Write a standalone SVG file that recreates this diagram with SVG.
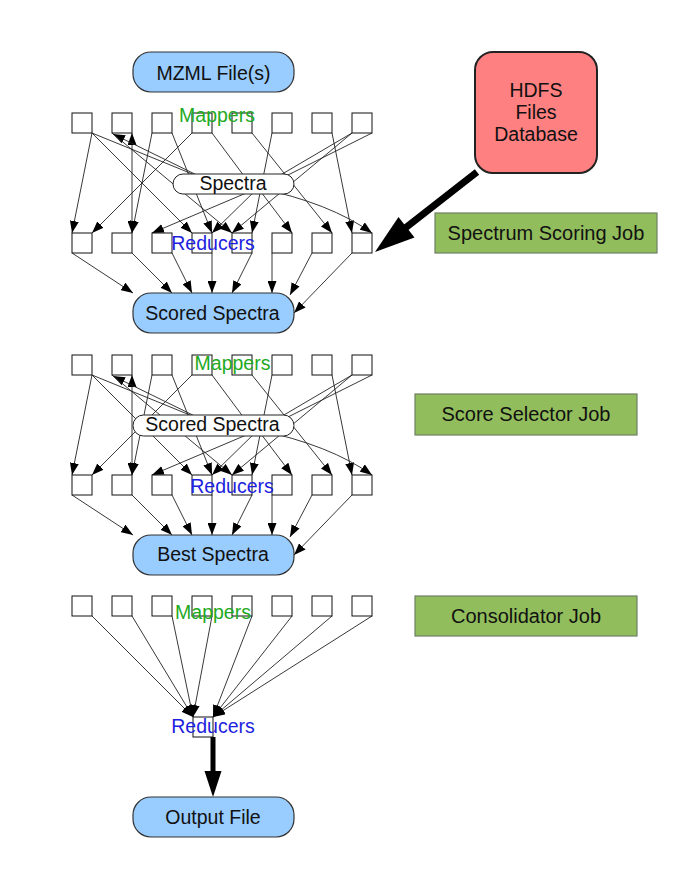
<svg xmlns="http://www.w3.org/2000/svg" width="685" height="886" viewBox="0 0 685 886">
<style>
text{font-family:"Liberation Sans",Arial,sans-serif;font-size:19.5px;fill:#111;text-anchor:middle}
.box{fill:#fff;stroke:#111;stroke-width:1}
.node{fill:#99CCFF;stroke:#333;stroke-width:1.2}
.pill{fill:#fff;stroke:#222;stroke-width:1}
.job{fill:#92BD5C;stroke:#6f7f64;stroke-width:1.2}
.a,.n,.b{stroke:#222;stroke-width:0.9;fill:none}
.a{marker-end:url(#ah)}
.b{marker-end:url(#ah);marker-start:url(#ah)}
.map{fill:#1FAA1F}
.red{fill:#1E1EE0}
.jt{font-size:20px}
</style>
<defs>
<marker id="ah" viewBox="0 0 12 9" refX="12" refY="4.5" markerWidth="12" markerHeight="9" markerUnits="userSpaceOnUse" orient="auto-start-reverse">
<path d="M0,0 L12,4.5 L0,9 z" fill="#000"/>
</marker>
</defs>
<rect width="685" height="886" fill="#fff"/>

<g id="connectors">
<g id="conn-row1">
<line x1="92" y1="133" x2="72" y2="233" class="a"/>
<line x1="92" y1="133" x2="207" y2="180" class="n"/>
<line x1="92" y1="133" x2="192" y2="233" class="a"/>
<line x1="132" y1="133" x2="132" y2="233" class="b"/>
<line x1="207" y1="180" x2="113" y2="134" class="a"/>
<line x1="112" y1="133" x2="232" y2="233" class="a"/>
<line x1="152" y1="133" x2="132" y2="233" class="a"/>
<line x1="172" y1="133" x2="212" y2="233" class="a"/>
<line x1="192" y1="133" x2="92" y2="233" class="a"/>
<line x1="212" y1="133" x2="247" y2="180" class="n"/>
<line x1="252" y1="133" x2="332" y2="233" class="a"/>
<line x1="272" y1="133" x2="252" y2="233" class="a"/>
<line x1="352" y1="133" x2="272" y2="180" class="n"/>
<line x1="372" y1="133" x2="278" y2="180" class="n"/>
<line x1="332" y1="133" x2="352" y2="233" class="a"/>
<line x1="352" y1="133" x2="232" y2="233" class="a"/>
<line x1="258" y1="188" x2="152" y2="233" class="a"/>
<line x1="258" y1="188" x2="212" y2="233" class="a"/>
<line x1="258" y1="188" x2="292" y2="233" class="a"/>
<path d="M258,188 Q330,203 372,233" class="a"/>
<line x1="72" y1="253" x2="133" y2="293" class="a"/>
<line x1="132" y1="253" x2="172" y2="293" class="a"/>
<line x1="172" y1="253" x2="192" y2="293" class="a"/>
<line x1="212" y1="253" x2="212" y2="293" class="a"/>
<line x1="252" y1="253" x2="232" y2="293" class="a"/>
<line x1="272" y1="253" x2="272" y2="293" class="a"/>
<line x1="312" y1="253" x2="290" y2="295" class="a"/>
<line x1="352" y1="253" x2="294" y2="313" class="a"/>
</g>
<g id="conn-row2" transform="translate(0,242)">
<line x1="92" y1="133" x2="72" y2="233" class="a"/>
<line x1="92" y1="133" x2="207" y2="180" class="n"/>
<line x1="92" y1="133" x2="192" y2="233" class="a"/>
<line x1="132" y1="133" x2="132" y2="233" class="b"/>
<line x1="207" y1="180" x2="113" y2="134" class="a"/>
<line x1="112" y1="133" x2="232" y2="233" class="a"/>
<line x1="152" y1="133" x2="132" y2="233" class="a"/>
<line x1="172" y1="133" x2="212" y2="233" class="a"/>
<line x1="192" y1="133" x2="92" y2="233" class="a"/>
<line x1="212" y1="133" x2="247" y2="180" class="n"/>
<line x1="252" y1="133" x2="332" y2="233" class="a"/>
<line x1="272" y1="133" x2="252" y2="233" class="a"/>
<line x1="352" y1="133" x2="272" y2="180" class="n"/>
<line x1="372" y1="133" x2="278" y2="180" class="n"/>
<line x1="332" y1="133" x2="352" y2="233" class="a"/>
<line x1="352" y1="133" x2="232" y2="233" class="a"/>
<line x1="258" y1="188" x2="152" y2="233" class="a"/>
<line x1="258" y1="188" x2="212" y2="233" class="a"/>
<line x1="258" y1="188" x2="292" y2="233" class="a"/>
<path d="M258,188 Q330,203 372,233" class="a"/>
<line x1="72" y1="253" x2="133" y2="293" class="a"/>
<line x1="132" y1="253" x2="172" y2="293" class="a"/>
<line x1="172" y1="253" x2="192" y2="293" class="a"/>
<line x1="212" y1="253" x2="212" y2="293" class="a"/>
<line x1="252" y1="253" x2="232" y2="293" class="a"/>
<line x1="272" y1="253" x2="272" y2="293" class="a"/>
<line x1="312" y1="253" x2="290" y2="295" class="a"/>
<line x1="352" y1="253" x2="294" y2="313" class="a"/>
</g>
<g id="conn-row3">
<line x1="92" y1="616" x2="193" y2="717" class="a"/>
<line x1="132" y1="616" x2="193" y2="717" class="a"/>
<line x1="172" y1="616" x2="193" y2="717" class="a"/>
<line x1="212" y1="616" x2="193" y2="717" class="a"/>
<line x1="252" y1="616" x2="213" y2="717" class="a"/>
<line x1="292" y1="616" x2="213" y2="717" class="a"/>
<line x1="332" y1="616" x2="213" y2="717" class="a"/>
<line x1="372" y1="616" x2="213" y2="717" class="a"/>
</g>
<g id="thick-arrows">
<line x1="477" y1="172" x2="404" y2="229" stroke="#000" stroke-width="7"/>
<polygon points="375,252 414.5,237.5 398.5,217" fill="#000"/>
<line x1="213" y1="737" x2="213" y2="773" stroke="#000" stroke-width="5"/>
<polygon points="204.5,771 221.5,771 213,797" fill="#000"/>
</g>
</g>

<g id="mzml"><rect class="node" x="133" y="52" width="161" height="40" rx="18"/><text x="213.5" y="80">MZML File(s)</text></g>

<g id="mappers1">
<rect class="box" x="72" y="113" width="20" height="20"/><rect class="box" x="112" y="113" width="20" height="20"/><rect class="box" x="152" y="113" width="20" height="20"/><rect class="box" x="192" y="113" width="20" height="20"/><rect class="box" x="232" y="113" width="20" height="20"/><rect class="box" x="272" y="113" width="20" height="20"/><rect class="box" x="312" y="113" width="20" height="20"/><rect class="box" x="352" y="113" width="20" height="20"/>
<text class="map" x="217" y="122">Mappers</text>
</g>
<g id="spectra"><rect class="pill" x="173" y="174" width="121" height="20" rx="10"/><text x="233" y="189.5">Spectra</text></g>
<g id="reducers1">
<rect class="box" x="72" y="233" width="20" height="20"/><rect class="box" x="112" y="233" width="20" height="20"/><rect class="box" x="152" y="233" width="20" height="20"/><rect class="box" x="192" y="233" width="20" height="20"/><rect class="box" x="232" y="233" width="20" height="20"/><rect class="box" x="272" y="233" width="20" height="20"/><rect class="box" x="312" y="233" width="20" height="20"/><rect class="box" x="352" y="233" width="20" height="20"/>
<text class="red" x="213" y="249.5">Reducers</text>
</g>
<g id="scored-spectra"><rect class="node" x="133" y="293" width="161" height="40" rx="18"/><text x="212.5" y="319.5">Scored Spectra</text></g>

<g id="mappers2">
<rect class="box" x="72" y="355" width="20" height="20"/><rect class="box" x="112" y="355" width="20" height="20"/><rect class="box" x="152" y="355" width="20" height="20"/><rect class="box" x="192" y="355" width="20" height="20"/><rect class="box" x="232" y="355" width="20" height="20"/><rect class="box" x="272" y="355" width="20" height="20"/><rect class="box" x="312" y="355" width="20" height="20"/><rect class="box" x="352" y="355" width="20" height="20"/>
<text class="map" x="232.5" y="369.5">Mappers</text>
</g>
<g id="scored-spectra-pill"><rect class="pill" x="133" y="415" width="161" height="21" rx="10.5"/><text x="212.5" y="431">Scored Spectra</text></g>
<g id="reducers2">
<rect class="box" x="72" y="475" width="20" height="20"/><rect class="box" x="112" y="475" width="20" height="20"/><rect class="box" x="152" y="475" width="20" height="20"/><rect class="box" x="192" y="475" width="20" height="20"/><rect class="box" x="232" y="475" width="20" height="20"/><rect class="box" x="272" y="475" width="20" height="20"/><rect class="box" x="312" y="475" width="20" height="20"/><rect class="box" x="352" y="475" width="20" height="20"/>
<text class="red" x="232" y="493">Reducers</text>
</g>
<g id="best-spectra"><rect class="node" x="133" y="535" width="161" height="40" rx="18"/><text x="213" y="561">Best Spectra</text></g>

<g id="mappers3">
<rect class="box" x="72" y="596" width="20" height="20"/><rect class="box" x="112" y="596" width="20" height="20"/><rect class="box" x="152" y="596" width="20" height="20"/><rect class="box" x="192" y="596" width="20" height="20"/><rect class="box" x="232" y="596" width="20" height="20"/><rect class="box" x="272" y="596" width="20" height="20"/><rect class="box" x="312" y="596" width="20" height="20"/><rect class="box" x="352" y="596" width="20" height="20"/>
<text class="map" x="213" y="618.5">Mappers</text>
</g>
<g id="reducer3"><rect class="box" x="193" y="717" width="20" height="20"/><text class="red" x="213" y="733">Reducers</text></g>
<g id="output-file"><rect class="node" x="133" y="797" width="161" height="40" rx="18"/><text x="213" y="823.5">Output File</text></g>

<g id="hdfs"><rect x="475" y="52" width="122" height="121" rx="18" fill="#FF8080" stroke="#222" stroke-width="2"/>
<text x="536" y="97">HDFS</text><text x="536" y="119">Files</text><text x="536" y="141">Database</text></g>

<g id="job-scoring"><rect class="job" x="435" y="213" width="222" height="40"/><text class="jt" x="546" y="240">Spectrum Scoring Job</text></g>
<g id="job-selector"><rect class="job" x="415" y="394" width="222" height="41"/><text class="jt" x="526" y="421">Score Selector Job</text></g>
<g id="job-consolidator"><rect class="job" x="415" y="596" width="222" height="40"/><text class="jt" x="526" y="622.5">Consolidator Job</text></g>
</svg>
